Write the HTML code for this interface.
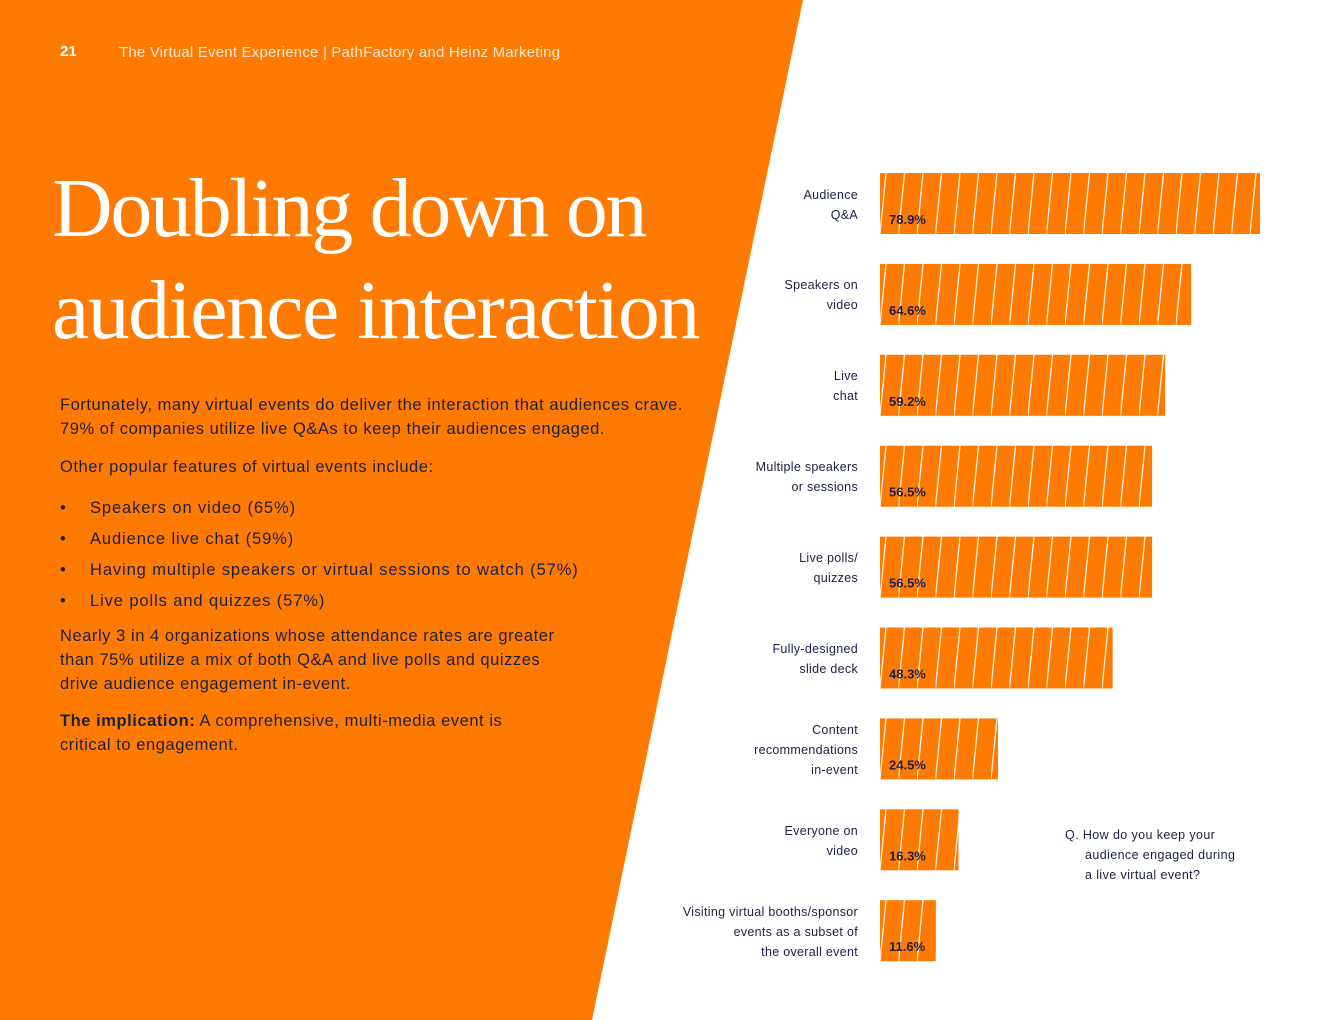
<!DOCTYPE html>
<html><head><meta charset="utf-8">
<style>
html,body{margin:0;padding:0;}
body{width:1320px;height:1020px;position:relative;overflow:hidden;background:#fff;font-family:"Liberation Sans",sans-serif;}
.abs{position:absolute;}
.body-text{color:#1b2145;font-size:16.5px;line-height:24px;letter-spacing:0.55px;white-space:nowrap;}
.lbl{position:absolute;right:462px;text-align:right;color:#1b2145;font-size:12.5px;line-height:20px;letter-spacing:0.3px;white-space:nowrap;}
</style></head>
<body>
<svg class="abs" style="left:0;top:0" width="1320" height="1020">
<polygon points="0,0 803,0 592,1020 0,1020" fill="#FF7A00"/>
</svg>
<div class="abs" style="left:60px;top:43px;color:#fff;font-weight:bold;font-size:15px;">21</div>
<div class="abs" style="left:119px;top:44px;color:#ffe9d6;font-size:15px;letter-spacing:0.2px;">The Virtual Event Experience | PathFactory and Heinz Marketing</div>
<div class="abs" style="left:52px;top:158px;color:#fff;font-family:'Liberation Serif',serif;font-size:84px;line-height:102px;letter-spacing:-2.3px;white-space:nowrap;">Doubling down on<br><span style="letter-spacing:-1.6px">audience interaction</span></div>
<div class="abs body-text" style="left:60px;top:393px;">Fortunately, many virtual events do deliver the interaction that audiences crave.<br>79% of companies utilize live Q&amp;As to keep their audiences engaged.</div>
<div class="abs body-text" style="left:60px;top:455px;">Other popular features of virtual events include:</div>
<div class="abs body-text" style="left:60px;top:493px;line-height:31px;letter-spacing:0.9px;">
<div><span style="display:inline-block;width:30px">•</span>Speakers on video (65%)</div>
<div><span style="display:inline-block;width:30px">•</span>Audience live chat (59%)</div>
<div><span style="display:inline-block;width:30px">•</span>Having multiple speakers or virtual sessions to watch (57%)</div>
<div><span style="display:inline-block;width:30px">•</span>Live polls and quizzes (57%)</div>
</div>
<div class="abs body-text" style="left:60px;top:624px;">Nearly 3 in 4 organizations whose attendance rates are greater<br>than 75% utilize a mix of both Q&amp;A and live polls and quizzes<br>drive audience engagement in-event.</div>
<div class="abs body-text" style="left:60px;top:709px;"><b>The implication:</b> A comprehensive, multi-media event is<br>critical to engagement.</div>

<svg id="chart" class="abs" style="left:0;top:0" width="1320" height="1020">
<defs id="defs"></defs>
</svg>
<div id="labels"></div>
<div class="abs" style="left:1065px;top:825px;color:#1b2145;font-size:12.5px;line-height:20px;letter-spacing:0.4px;">Q.&nbsp;How do you keep your<br><span style="padding-left:20px">audience engaged during</span><br><span style="padding-left:20px">a live virtual event?</span></div>

<script>
const categories = ["Audience<br>Q&amp;A","Speakers on<br>video","Live<br>chat","Multiple speakers<br>or sessions","Live polls/<br>quizzes","Fully-designed<br>slide deck","Content<br>recommendations<br>in-event","Everyone on<br>video","Visiting virtual booths/sponsor<br>events as a subset of<br>the overall event"];
const values = [78.9,64.6,59.2,56.5,56.5,48.3,24.5,16.3,11.6];
const valueLabels = ["78.9%","64.6%","59.2%","56.5%","56.5%","48.3%","24.5%","16.3%","11.6%"];

const x0 = 880, pxPerPct = 4.816, top0 = 173, step = 90.9, barH = 61;
function xScale(v){ return v * pxPerPct; }
function yScale(i){ return top0 + i * step; }

const svg = document.getElementById('chart');
const defs = document.getElementById('defs');
const NS = "http://www.w3.org/2000/svg";
const labels = document.getElementById('labels');
values.forEach((v,i)=>{
  const y = yScale(i), w = xScale(v);
  const p = document.createElementNS(NS,'pattern');
  p.setAttribute('id','hatch'+i);
  p.setAttribute('patternUnits','userSpaceOnUse');
  p.setAttribute('width','18.5'); p.setAttribute('height',barH);
  p.setAttribute('x',x0); p.setAttribute('y',y);
  const ln = document.createElementNS(NS,'line');
  ln.setAttribute('x1','0'); ln.setAttribute('y1',barH); ln.setAttribute('x2','6'); ln.setAttribute('y2','0');
  ln.setAttribute('stroke','#fff3e0'); ln.setAttribute('stroke-width','1.3');
  p.appendChild(ln);
  defs.appendChild(p);
  const r = document.createElementNS(NS,'rect');
  r.setAttribute('x',x0); r.setAttribute('y',y); r.setAttribute('width',w); r.setAttribute('height',barH);
  r.setAttribute('fill','#FF7A00');
  
  
  svg.appendChild(r);
  const h = document.createElementNS(NS,'rect');
  h.setAttribute('x',x0); h.setAttribute('y',y); h.setAttribute('width',w); h.setAttribute('height',barH);
  h.setAttribute('fill','url(#hatch'+i+')');
  
  
  svg.appendChild(h);
  const t = document.createElementNS(NS,'text');
  t.setAttribute('x',x0+9); t.setAttribute('y',y+51);
  t.setAttribute('font-size','13'); t.setAttribute('font-weight','bold'); t.setAttribute('fill','#1b2145');
  t.setAttribute('font-family','Liberation Sans, sans-serif');
  t.textContent = valueLabels[i];
  
  
  svg.appendChild(t);
  const d = document.createElement('div');
  d.className = 'lbl';
  const lines = categories[i].split('<br>').length;
  d.style.top = (y + 30.5 - lines*10 + 1) + 'px';
  d.innerHTML = categories[i];
  
  
  labels.appendChild(d);
});
</script>
</body></html>
